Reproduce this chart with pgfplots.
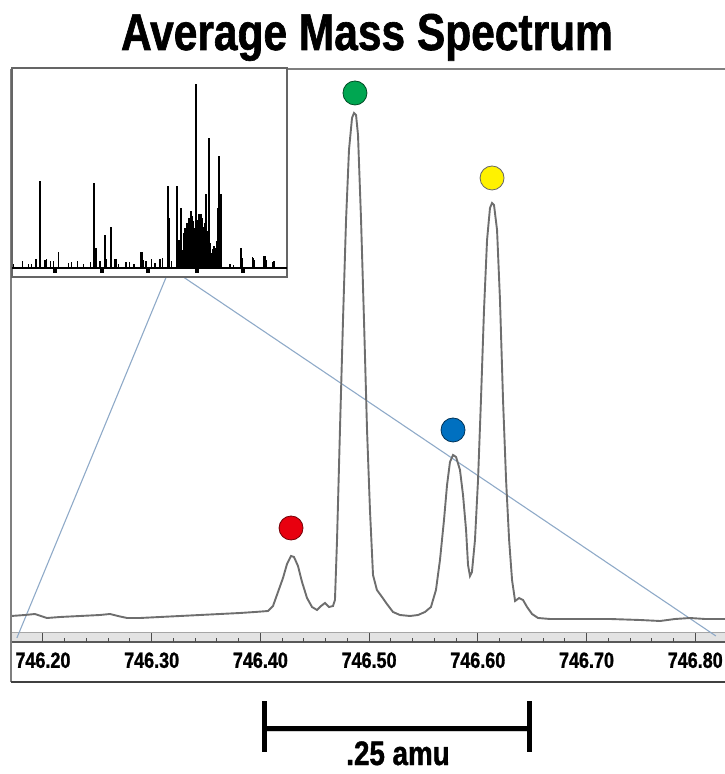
\documentclass[border=0pt]{standalone}
\usepackage{fontspec}
\setmainfont{Liberation Sans}[FakeStretch=0.82, BoldFeatures={FakeBold=1.2}]
\usepackage{pgfplots}
\pgfplotsset{compat=1.18}
\definecolor{trace}{HTML}{6E6E6E}
\definecolor{framegray}{HTML}{7F7F7F}
\definecolor{zoomblue}{HTML}{8FAAC8}
\definecolor{dotred}{HTML}{E8000F}
\definecolor{dotgreen}{HTML}{00A651}
\definecolor{dotblue}{HTML}{0070C0}
\definecolor{dotyellow}{HTML}{FFF200}

\begin{document}
\begin{tikzpicture}[x=1bp,y=1bp]
\path[use as bounding box] (0,0) rectangle (725,774);

% title
\node[font=\bfseries\fontsize{52}{52}\selectfont, anchor=base] at (367,724) {Average Mass Spectrum};

% main spectrum (x in m/z, y in arbitrary intensity)
\begin{axis}[
  at={(11bp,132bp)}, anchor=south west,
  width=714bp, height=573bp, scale only axis,
  xmin=746.1706, xmax=746.8274, ymin=-7, ymax=566,
  axis line style={draw=none}, axis on top,
  ytick=\empty,
  xtick={746.2,746.3,746.4,746.5,746.6,746.7,746.8},
  xticklabels={746.20,746.30,746.40,746.50,746.60,746.70,746.80},
  minor x tick num=4,
  xtick pos=bottom, xtick align=inside,
  major tick length=9bp, minor tick length=4bp,
  tick style={black!70, line width=1bp},
  xticklabel style={font=\bfseries\fontsize{22}{22}\selectfont, yshift=-7bp},
  clip=false,
]
% ruler band
\fill[gray!22] (axis cs:746.1706,-7) rectangle (axis cs:746.8274,2);
\draw[gray!70, line width=1bp] (axis cs:746.1706,2) -- (axis cs:746.8274,2);
\draw[black!65, line width=1.5bp] (axis cs:746.1706,-7) -- (axis cs:746.8274,-7);

% zoom lines from the inset
\draw[zoomblue, line width=1.1bp] (axis cs:746.3168,367) -- (axis cs:746.176,-3);
\draw[zoomblue, line width=1.1bp] (axis cs:746.3168,367) -- (axis cs:746.819,-1);

\addplot[trace, line width=1.9bp] coordinates {
(746.1706,19) (746.1834,20) (746.1926,21) (746.2037,17) (746.2156,18)
(746.2340,19) (746.2524,20) (746.2616,21) (746.2690,19) (746.2773,17)
(746.2892,17) (746.3076,18) (746.3260,19) (746.3444,20) (746.3628,21)
(746.3812,22) (746.3950,23) (746.4070,24) (746.4116,29) (746.4162,43)
(746.4208,57) (746.4245,71) (746.4282,79) (746.4309,78) (746.4346,69)
(746.4383,53) (746.4429,37) (746.4475,28) (746.4521,25) (746.4558,29)
(746.4594,32) (746.4631,28) (746.4668,29) (746.4686,35)
(746.4705,95) (746.4732,205) (746.4760,315) (746.4788,415) (746.4815,485)
(746.4843,517) (746.4861,522) (746.4880,520) (746.4898,500) (746.4926,415)
(746.4953,315) (746.4981,205) (746.5008,125) (746.5036,60) (746.5072,45)
(746.5119,38) (746.5164,31) (746.5220,23) (746.5284,20) (746.5376,19)
(746.5450,20) (746.5514,23) (746.5569,28) (746.5615,45) (746.5652,75)
(746.5689,115) (746.5717,150) (746.5744,173) (746.5772,180) (746.5800,178)
(746.5836,165) (746.5864,140) (746.5892,105) (746.5910,70) (746.5928,59)
(746.5946,63) (746.5974,95) (746.6002,155) (746.6029,235) (746.6057,325)
(746.6085,395) (746.6112,427) (746.6131,432) (746.6149,430) (746.6177,405)
(746.6204,335) (746.6232,235) (746.6260,155) (746.6288,95) (746.6315,55)
(746.6343,34) (746.6380,37) (746.6416,35) (746.6453,28) (746.6499,21)
(746.6554,17) (746.6665,16) (746.6940,16) (746.7216,16) (746.7492,15)
(746.7676,14) (746.7814,16) (746.7952,17) (746.8090,16) (746.8274,16)
};

% coloured peak markers
\addplot[only marks, mark=*, mark size=12bp, mark options={fill=dotred, draw=dotred!50!black, line width=0.8bp}] coordinates {(746.4282,107)};
\addplot[only marks, mark=*, mark size=12bp, mark options={fill=dotgreen, draw=dotgreen!45!black, line width=0.8bp}] coordinates {(746.4870,542)};
\addplot[only marks, mark=*, mark size=12bp, mark options={fill=dotblue, draw=dotblue!45!black, line width=0.8bp}] coordinates {(746.5772,205)};
\addplot[only marks, mark=*, mark size=12bp, mark options={fill=dotyellow, draw=black!60, line width=0.8bp}] coordinates {(746.6131,457)};

% scale bar
\fill[gray!35] (axis cs:746.4060,-97) rectangle (axis cs:746.6500,-95);
\draw[black, line width=5bp] (axis cs:746.404,-93) -- (axis cs:746.648,-93);
\draw[black, line width=5bp] (axis cs:746.404,-66) -- (axis cs:746.404,-117);
\draw[black, line width=5bp] (axis cs:746.648,-66) -- (axis cs:746.648,-117);
\node[anchor=base, font=\bfseries\fontsize{34}{34}\selectfont] at (axis cs:746.5266,-130) {.25 amu};
\end{axis}

% frame
\draw[framegray, line width=2.5bp] (11,705) -- (725,705);
\draw[framegray, line width=2bp] (11,705) -- (11,92);
\draw[black!75, line width=1.5bp] (11,92) -- (725,92);

% inset: full spectrum
\begin{axis}[
  at={(12bp,497bp)}, anchor=south west,
  width=275bp, height=209bp, scale only axis,
  xmin=0, xmax=275, ymin=-9, ymax=200,
  axis background/.style={fill=white},
  axis line style={framegray!80!black, line width=1.5bp},
  xtick=\empty, ytick=\empty,
  clip=false,
]
\addplot[ycomb, black, line width=1.4bp] coordinates {
(1.3,4.3) (10.7,6.7) (16.3,4.3) (19.7,4.3) (24,9.3) (33,8.3) (34.7,9.3)
(38.7,6.7) (41.3,7.3) (46.3,15.7) (56.3,5) (59.7,6) (65.3,7.3) (71.3,4.3)
(78.7,6) (88,6.7) (94.7,9) (104,9) (106.7,4.3) (114,6) (117.3,6) (122,4.3)
(129,15.7) (129.7,15.7) (130.5,15.7) (131.3,8.3) (134,6.7) (139.7,9.3) (143,5) (148,9.3)
(150.7,10) (159.7,6.7) (170.7,17.7) (218,4.3) (221.3,3.3) (230,10) (240.3,10.7)
(242,8) (252,12.3) (254.7,8.3) (262,6.7)
};
\addplot[ycomb, black, line width=1.8bp] coordinates {
(28,87) (82,85) (84,20) (93,33) (99,41) (103,9) (156,82) (157,50) (165,82)
(167,28) (169,60) (171,18) (172,35) (173,40) (174,38) (175,45) (176,44)
(177,50) (178,42) (179,57) (180,52) (181,47) (182,40) (183,35) (184,184)
(185,28) (186,48) (187,54) (188,45) (189,54) (190,50) (191,41) (192,40)
(193,45) (194,74) (195,30) (196,37) (197,130) (198,25) (200,15) (201,19)
(202,22) (204,20) (205,27) (206,60) (207,112) (209,74) (229,20) (241,10)
(253,12) (261,6)
};
\draw[black, line width=2.5bp] (axis cs:0,0) -- (axis cs:275,0);
\fill[black] (axis cs:41,0) rectangle (axis cs:45,-5);
\fill[black] (axis cs:87.7,0) rectangle (axis cs:91.7,-5);
\fill[black] (axis cs:134.3,0) rectangle (axis cs:138.3,-5);
\fill[black] (axis cs:182.7,0) rectangle (axis cs:186.7,-5);
\fill[black] (axis cs:229.3,0) rectangle (axis cs:233.3,-5);
\end{axis}
\end{tikzpicture}
\end{document}
